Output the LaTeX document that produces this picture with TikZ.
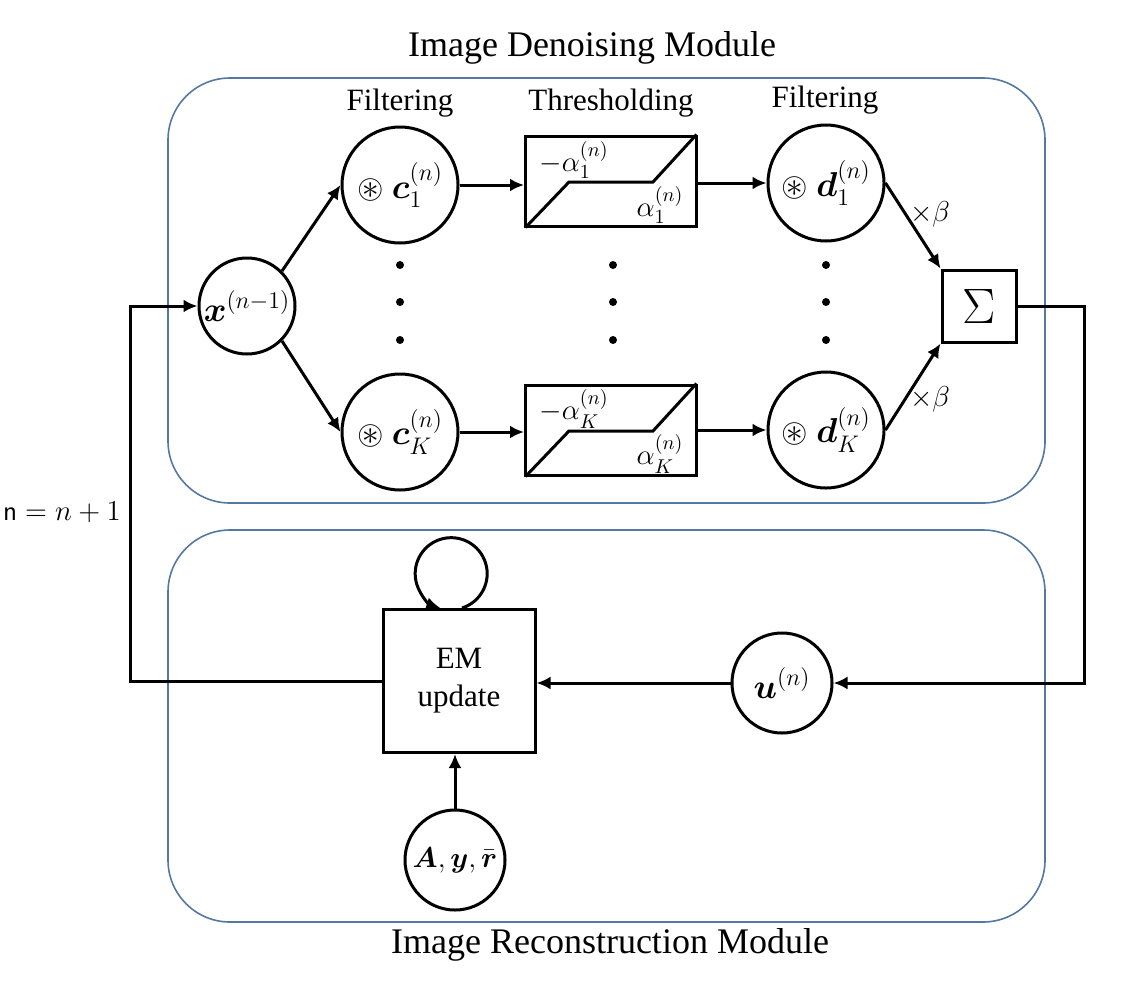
\documentclass[tikz,border=0pt]{standalone}
\usepackage{amsmath,amssymb}
\usepackage{fontspec}
\setmainfont{Liberation Serif}
\usetikzlibrary{positioning, arrows.meta, calc}

\definecolor{modblue}{RGB}{84,120,162}

\begin{document}
\begin{tikzpicture}[
    x=0.5pt, y=-0.5pt,
    line width=1.5pt,
    module/.style={
        draw=modblue, line width=0.8pt, rounded corners=31pt
    },
    circ/.style={
        draw, circle, inner sep=0pt,
        font=\fontsize{17}{20}\selectfont
    },
    filter/.style={circ, minimum size=58pt},
    thresh/.style={
        draw, rectangle, inner sep=0pt,
        minimum width=85.5pt, minimum height=45pt
    },
    sumbox/.style={
        draw, rectangle, inner sep=0pt,
        minimum width=37pt, minimum height=36pt,
        font=\fontsize{26}{28}\selectfont
    },
    embox/.style={
        draw, rectangle, align=center,
        minimum width=76pt, minimum height=71.5pt,
        font=\fontsize{15.5}{19}\selectfont
    },
    head/.style={font=\fontsize{15.5}{18}\selectfont},
    title/.style={font=\fontsize{18}{22}\selectfont},
    tlabel/.style={font=\fontsize{14}{16}\selectfont, inner sep=0pt},
    dot/.style={circle, fill, inner sep=0pt, minimum size=4pt},
    arr/.style={-{Latex[length=7pt,width=6.5pt]}}
]
\useasboundingbox (0,0) rectangle (1122,990);

% ===== MODULES =====
\draw[module] (168,78) rectangle (1045,503);
\draw[module] (168,530) rectangle (1045,922);
\node[title] (dentitle) at (592,48) {Image Denoising Module};
\node[title] (rectitle) at (610,945) {Image Reconstruction Module};

% ===== DENOISING: NODES =====
\node[circ, minimum size=48pt] (x) at (247,306) {$\boldsymbol{x}^{(n-1)}$};

\node[filter] (c1) at (400,185) {$\circledast\ \boldsymbol{c}_1^{(n)}$};
\node[filter] (cK) at (400,432) {$\circledast\ \boldsymbol{c}_K^{(n)}$};

\node[thresh] (th1) at (611,181) {};
\node[thresh] (thK) at (611,430) {};

\node[filter] (d1) at (826,183) {$\circledast\ \boldsymbol{d}_1^{(n)}$};
\node[filter] (dK) at (826,430) {$\circledast\ \boldsymbol{d}_K^{(n)}$};

\node[sumbox] (sum) at (979,306) {$\Sigma$};

% column heads
\node[head] (fhead1) at (400,103) {Filtering};
\node[head] (thead) at (611,103) {Thresholding};
\node[head] (fhead2) at (825,100) {Filtering};

% vertical dots
\foreach \cx in {400,613,826}
    \foreach \cy in {265,302,340}
        \node[dot] at (\cx,\cy) {};

% threshold curves
\draw ([xshift=0.75pt]th1.south west) -- ($(th1.center)+(-42,1)$)
    -- ($(th1.center)+(42,1)$) -- ([xshift=-0.75pt]th1.north east);
\draw ([xshift=0.75pt]thK.south west) -- ($(thK.center)+(-42,1)$)
    -- ($(thK.center)+(42,1)$) -- ([xshift=-0.75pt]thK.north east);

\node[tlabel] at (574,160) {$-\alpha_1^{(n)}$};
\node[tlabel] at (660,205) {$\alpha_1^{(n)}$};
\node[tlabel] at (574,409) {$-\alpha_K^{(n)}$};
\node[tlabel] at (660,454) {$\alpha_K^{(n)}$};

% ===== DENOISING: FLOWS =====
\draw[arr] (x.45) -- (c1.west);
\draw[arr] (x.-45) -- (cK.west);

\draw[arr] (c1.east) -- (c1.east -| th1.west);
\draw[arr] (cK.east) -- (cK.east -| thK.west);
\draw[arr] (th1.east |- d1.west) -- (d1.west);
\draw[arr] (thK.east |- dK.west) -- (dK.west);

\draw[arr] (d1.east) -- (sum.north west);
\draw[arr] (dK.east) -- (sum.south west);
\node[tlabel] (beta1) at (930,214) {$\times\beta$};
\node[tlabel] (betaK) at (930,399) {$\times\beta$};

% ===== RECONSTRUCTION: NODES =====
\node[embox] (em) at (459,681) {EM\\update};
\node[circ, minimum size=50pt] (u) at (782,683) {$\boldsymbol{u}^{(n)}$};
\node[circ, minimum size=50pt, font=\fontsize{14}{17}\selectfont] (data)
    at (455,860) {$\boldsymbol{A}{,}\,\boldsymbol{y}{,}\,\bar{\boldsymbol{r}}$};

% ===== RECONSTRUCTION: FLOWS =====
\draw[arr] ([xshift=1.5pt]em.north)
    arc[start angle=-72.5, end angle=252.5, radius=18pt];
\draw[arr] (u.west) -- (u.west -| em.east);
\draw[arr] (data.north) -- (data.north |- em.south);

% ===== FEEDBACK LOOPS =====
\draw[arr] (sum.east) -- ++(67,0) |- (u.east);
\draw[arr] (em.west) -- ++(-251,0) |- (x.west);

\node[font=\fontsize{14}{17}\selectfont] (iter) at (62,512) {$\mathsf{n}=n+1$};

\end{tikzpicture}
\end{document}
